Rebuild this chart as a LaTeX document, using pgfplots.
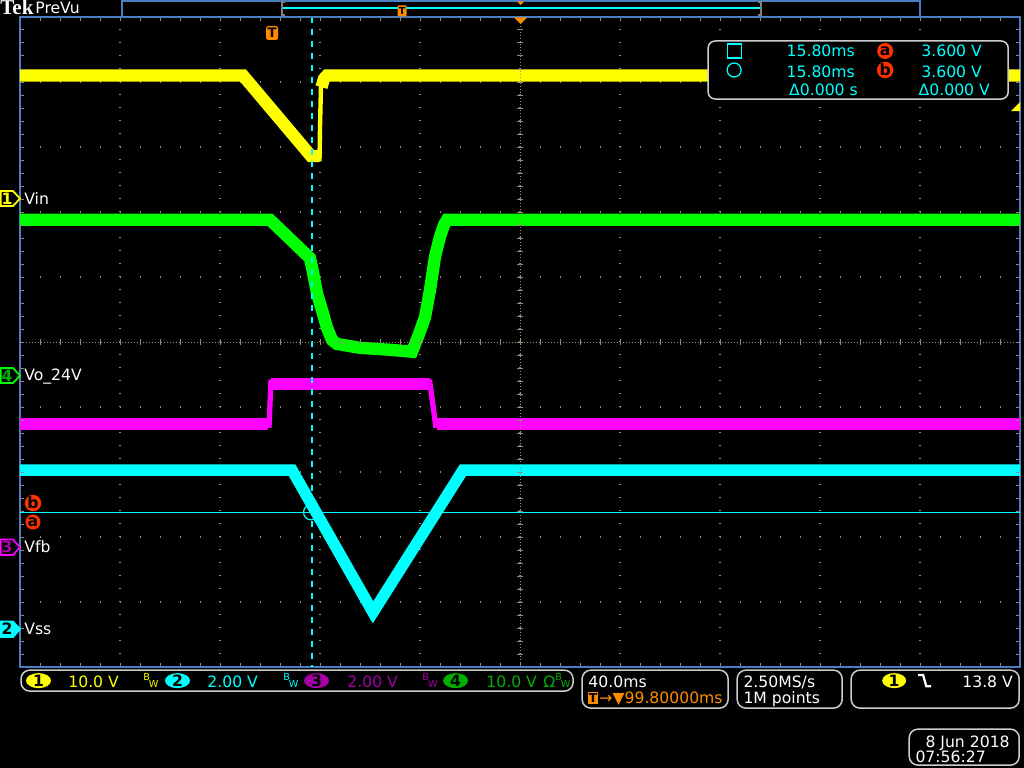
\documentclass[border=0pt]{standalone}
\usepackage{pgfplots}
\pgfplotsset{compat=1.18}
\usepackage{fontspec}
\setmainfont{DejaVu Sans}
\newfontfamily\tekserif{Liberation Serif}
\definecolor{tyellow}{RGB}{255,255,0}
\definecolor{tgreen}{RGB}{0,255,0}
\definecolor{tmag}{RGB}{255,0,255}
\definecolor{tcyan}{RGB}{0,255,255}
\definecolor{tblue}{RGB}{74,126,190}
\definecolor{tgrid}{RGB}{150,140,120}
\definecolor{torange}{RGB}{255,140,0}
\definecolor{tred}{RGB}{255,50,0}
\definecolor{tbox}{RGB}{205,205,205}
\definecolor{tpurple}{RGB}{165,0,165}
\definecolor{tdkgreen}{RGB}{0,175,0}
\newcommand\tf{\fontsize{8.9}{10}\selectfont}
\newcommand\bwf{\fontsize{5.5}{5.5}\selectfont}
\newcommand\BW{{\bwf\raisebox{4pt}{B}\kern-0.6pt W}}
\tikzset{lab/.style={inner sep=0pt, font=\tf}}
\begin{document}
\begin{tikzpicture}
\fill[black] (0,0) rectangle (20.48,15.36);
\begin{axis}[at={(0.4cm,2.02cm)}, anchor=south west, scale only axis,
  width=20cm, height=13cm, xmin=-5, xmax=5, ymin=-5, ymax=5,
  xtick={-5,...,5}, ytick={-5,...,5}, xticklabels={}, yticklabels={},
  tick style={draw=none},
  axis line style={tblue, line width=0.03cm},
  grid=major,
  x grid style={tgrid, line width=0.025cm, dash pattern=on 0.025cm off 0.235cm},
  y grid style={tgrid, line width=0.025cm, dash pattern=on 0.025cm off 0.375cm}]
% CH1 yellow (Vin)
\addplot[tyellow, line width=7pt] coordinates {(-5,4.10) (-2.77,4.10) (-2.09,2.86) (-2.005,2.86)};
\addplot[tyellow, line width=2.5pt] coordinates {(-2.005,2.78) (-2.0,3.3) (-1.99,3.95)};
\addplot[tyellow, line width=7pt] coordinates {(-1.985,3.92) (-1.96,4.05) (-1.93,4.10) (5,4.10)};
% CH4 green (Vo_24V)
\addplot[tgreen, line width=7pt] coordinates {(-5,1.88) (-2.50,1.88) (-2.10,1.29) (-2.08,1.15) (-2.03,0.75) (-1.98,0.49) (-1.93,0.22) (-1.88,0.03) (-1.83,-0.03) (-1.6,-0.09) (-1.3,-0.12) (-1.08,-0.15) (-1.02,0.08) (-0.95,0.38) (-0.90,0.80) (-0.85,1.31) (-0.80,1.62) (-0.76,1.80) (-0.73,1.88) (5,1.88)};
% CH3 magenta (Vfb)
\addplot[tmag, line width=7pt] coordinates {(-5,-1.26) (-2.52,-1.26)};
\addplot[tmag, line width=3pt] coordinates {(-2.51,-1.32) (-2.49,-0.58)};
\addplot[tmag, line width=7pt] coordinates {(-2.49,-0.645) (-0.905,-0.645)};
\addplot[tmag, line width=3pt] coordinates {(-0.905,-0.58) (-0.84,-1.32)};
\addplot[tmag, line width=7pt] coordinates {(-0.835,-1.26) (5,-1.26)};
% CH2 cyan (Vss)
\addplot[tcyan, line width=6.5pt] coordinates {(-5,-1.97) (-2.28,-1.97) (-1.47,-4.16) (-0.57,-1.97) (5,-1.97)};
% cursors
\draw[tcyan, line width=0.025cm] (axis cs:-5,-2.62) -- (axis cs:5,-2.62);
\draw[tcyan, line width=0.03cm, dash pattern=on 0.12cm off 0.12cm] (axis cs:-2.08,5) -- (axis cs:-2.08,-5);
\draw[tcyan, line width=0.025cm] (axis cs:-2.09,-2.62) circle[radius=0.15cm];
\end{axis}
\begin{scope}[yshift=15.36cm, x=0.02cm, y=-0.02cm]
% edge ticks
\foreach \i in {1,...,49} {
  \draw[tgrid, line width=0.02cm] ({20+\i*20},18) -- ++(0,3);
  \draw[tgrid, line width=0.02cm] ({20+\i*20},666) -- ++(0,-3);
}
\foreach \i in {1,...,49} {
  \draw[tgrid, line width=0.02cm] (21,{17+\i*13}) -- ++(3,0);
  \draw[tgrid, line width=0.02cm] (1019,{17+\i*13}) -- ++(-3,0);
}
% center crosshair
\draw[tgrid, line width=0.02cm, dash pattern=on 0.02cm off 0.04cm] (520,17) -- (520,667);
\draw[tgrid, line width=0.02cm, dash pattern=on 0.02cm off 0.04cm] (20,342) -- (1020,342);
\foreach \i in {1,...,49} {
  \draw[tgrid, line width=0.02cm] (517,{17+\i*13}) -- (523,{17+\i*13});
  \draw[tgrid, line width=0.02cm] ({20+\i*20},339) -- ({20+\i*20},345);
}
% top bar
\node[anchor=base west, inner sep=0pt, text=white, font=\tekserif\bfseries\fontsize{12}{12}\selectfont] at (0,15) {Tek};
\node[lab, anchor=base west, text=white] at (35,14) {PreVu};
\draw[tblue, line width=0.03cm] (122,0.8) rectangle (920,17);
\draw[tcyan, line width=0.025cm] (283,8) -- (761,8);
\draw[gray, line width=0.04cm] (285,2) -- (282,2) -- (282,15) -- (285,15);
\draw[gray, line width=0.04cm] (758,2) -- (761,2) -- (761,15) -- (758,15);
\node[fill=torange, text=black, inner sep=0pt, minimum width=0.18cm, minimum height=0.22cm, rounded corners=0.5pt, font=\fontsize{5.5}{5.5}\selectfont\bfseries] at (402,11) {T};
\fill[torange] (517,1.5) -- (524,1.5) -- (520.5,5) -- cycle;
% trigger markers on graticule
\fill[torange] (514,17.5) -- (527,17.5) -- (520.5,24) -- cycle;
\node[fill=torange, text=black, inner sep=0pt, minimum width=0.24cm, minimum height=0.28cm, rounded corners=1pt, font=\fontsize{7.5}{7.5}\selectfont\bfseries] at (272,33) {T};
% right level marker
\fill[tyellow] (1020,102) -- (1020,111) -- (1011,111) -- cycle;
% cursor readout box
\filldraw[draw=tbox, fill=black, line width=0.03cm, rounded corners=4] (708,41) rectangle (1008,99);
\draw[tcyan, line width=0.025cm] (727,44) rectangle (741,58);
\draw[tcyan, line width=0.025cm] (734,70) circle[radius=7];
\node[lab, anchor=base east, text=tcyan] at (855,57) {15.80ms};
\node[lab, anchor=base east, text=tcyan] at (855,77) {15.80ms};
\node[lab, anchor=base east, text=tcyan] at (858,95) {Δ0.000 s};
\node[lab, anchor=base east, text=tcyan] at (982,57) {3.600 V};
\node[lab, anchor=base east, text=tcyan] at (982,77) {3.600 V};
\node[lab, anchor=base east, text=tcyan] at (990,95) {Δ0.000 V};
\node[circle, fill=tred, text=black, inner sep=0pt, minimum size=0.32cm, font=\tf\bfseries] at (885,51) {a};
\node[circle, fill=tred, text=black, inner sep=0pt, minimum size=0.32cm, font=\tf\bfseries] at (885,70) {b};
% channel markers on left
\filldraw[draw=tyellow, fill=black, line width=0.035cm] (0.8,191) -- (13,191) -- (20,198.5) -- (13,206) -- (0.8,206) -- cycle;
\node[lab, text=tyellow, font=\tf\bfseries] at (7,198.5) {1};
\node[lab, anchor=base west, text=white] at (24,204) {Vin};
\filldraw[draw=tgreen, fill=black, line width=0.035cm] (0.8,368) -- (13,368) -- (20,375.5) -- (13,383) -- (0.8,383) -- cycle;
\node[lab, text=tdkgreen, font=\tf\bfseries] at (7,375.5) {4};
\node[lab, anchor=base west, text=white] at (24,380) {Vo\_24V};
\node[circle, fill=tred, text=black, inner sep=0pt, minimum size=0.3cm, font=\tf\bfseries] at (33,503) {b};
\node[circle, fill=tred, text=black, inner sep=0pt, minimum size=0.3cm, font=\tf\bfseries] at (33,522) {a};
\filldraw[draw=tmag, fill=black, line width=0.035cm] (0.8,539.5) -- (13,539.5) -- (20,547) -- (13,555) -- (0.8,555) -- cycle;
\node[lab, text=tpurple, font=\tf\bfseries] at (7,547) {3};
\node[lab, anchor=base west, text=white] at (24,552) {Vfb};
\filldraw[draw=tcyan, fill=tcyan, line width=0.035cm] (0.8,621.5) -- (13,621.5) -- (20,629) -- (13,637) -- (0.8,637) -- cycle;
\node[lab, text=black, font=\tf\bfseries] at (7,629) {2};
\node[lab, anchor=base west, text=white] at (24,634) {Vss};
% bottom status box 1
\draw[tbox, line width=0.03cm, rounded corners=5] (21,670) rectangle (573,691);
\fill[tyellow] (38.5,680.5) ellipse[x radius=12.5, y radius=7.5];
\node[lab, text=black, font=\tf\bfseries] at (38.5,680.5) {1};
\node[lab, anchor=base west, text=tyellow] at (68,687) {10.0 V};
\node[lab, anchor=base west, text=tyellow] at (143,687) {\BW};
\fill[tcyan] (177.5,680.5) ellipse[x radius=12.5, y radius=7.5];
\node[lab, text=black, font=\tf\bfseries] at (177.5,680.5) {2};
\node[lab, anchor=base west, text=tcyan] at (207,687) {2.00 V};
\node[lab, anchor=base west, text=tcyan] at (283,687) {\BW};
\fill[tpurple] (316.5,680.5) ellipse[x radius=12.5, y radius=7.5];
\node[lab, text=black, font=\tf\bfseries] at (316.5,680.5) {3};
\node[lab, anchor=base west, text=tpurple] at (347,687) {2.00 V};
\node[lab, anchor=base west, text=tpurple] at (422,687) {\BW};
\fill[tdkgreen] (455.5,680.5) ellipse[x radius=12.5, y radius=7.5];
\node[lab, text=black, font=\tf\bfseries] at (455.5,680.5) {4};
\node[lab, anchor=base west, text=tdkgreen] at (486,687) {10.0 V};
\node[lab, anchor=base west, text=tdkgreen] at (543,687) {Ω\BW};
% box 2
\draw[tbox, line width=0.03cm, rounded corners=5] (582,670) rectangle (728,708);
\node[lab, anchor=base west, text=white] at (588,687) {40.0ms};
\node[fill=torange, text=black, inner sep=0pt, minimum width=0.2cm, minimum height=0.24cm, font=\fontsize{7}{7}\selectfont\bfseries] at (593,697.5) {T};
\node[lab, anchor=base west, text=torange] at (599,703) {→▼99.80000ms};
% box 3
\draw[tbox, line width=0.03cm, rounded corners=5] (737,670) rectangle (842,708);
\node[lab, anchor=base west, text=white] at (743,687) {2.50MS/s};
\node[lab, anchor=base west, text=white] at (743,703) {1M points};
% box 4
\draw[tbox, line width=0.03cm, rounded corners=5] (851,670) rectangle (1019,708);
\fill[tyellow] (894,680.5) ellipse[x radius=12, y radius=7.5];
\node[lab, text=black, font=\tf\bfseries] at (894,680.5) {1};
\draw[white, line width=0.045cm] (918,675) -- (923,675) -- (926,686) -- (931,686);
\node[lab, anchor=base east, text=white] at (1013,687) {13.8 V};
% box 5
\draw[tbox, line width=0.03cm, rounded corners=5] (909,729) rectangle (1019,765);
\node[lab, anchor=base west, text=white] at (925,747) {8 Jun 2018};
\node[lab, anchor=base west, text=white] at (915,762) {07:56:27};
\end{scope}
\pgfresetboundingbox
\path[use as bounding box] (0,0) rectangle (20.48,15.36);
\end{tikzpicture}
\end{document}
